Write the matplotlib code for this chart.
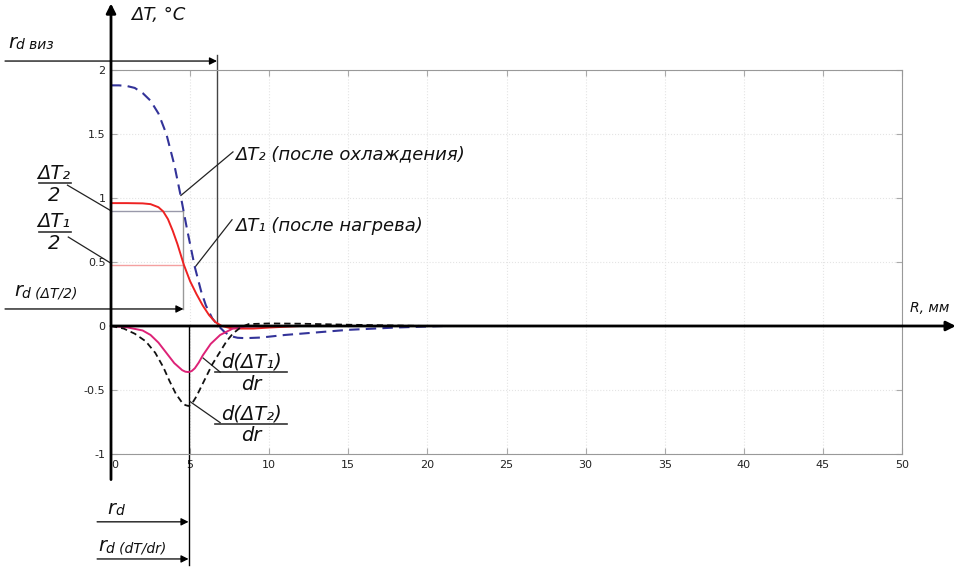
import matplotlib
matplotlib.use('Agg')
import matplotlib.pyplot as plt

## Data
# dT2 - after cooling (blue dashed)
r_t2 = [0, 0.5, 1, 1.5, 2, 2.5, 3, 3.5, 4, 4.4, 4.8, 5.3, 5.7, 6.0, 6.4, 6.8,
        7.2, 7.6, 8.0, 8.5, 9.5, 11, 13, 15, 18, 21]
t2 = [1.88, 1.88, 1.875, 1.86, 1.82, 1.76, 1.66, 1.5, 1.26, 1.02, 0.76, 0.46,
      0.27, 0.16, 0.06, 0.0, -0.05, -0.08, -0.092, -0.095, -0.09, -0.07, -0.05,
      -0.03, -0.012, 0.0]
# dT1 - after heating (red)
r_t1 = [0, 1, 2, 2.5, 3, 3.3, 3.6, 3.9, 4.2, 4.6, 5.0, 5.4, 5.8, 6.2, 6.6, 7.0,
        7.5, 8, 9, 10, 12]
t1 = [0.96, 0.96, 0.958, 0.952, 0.928, 0.895, 0.835, 0.745, 0.64, 0.48, 0.35,
      0.25, 0.16, 0.085, 0.03, 0.0, -0.015, -0.02, -0.02, -0.012, 0.0]
# d(dT1)/dr (magenta)
r_d1 = [0, 1, 2, 2.5, 3, 3.5, 4, 4.5, 4.7, 4.9, 5.1, 5.3, 5.55, 5.8, 6.3, 6.9,
        7.7, 8.5, 10]
d1 = [0, -0.01, -0.035, -0.07, -0.13, -0.21, -0.29, -0.345, -0.357, -0.36,
      -0.352, -0.33, -0.285, -0.23, -0.14, -0.07, -0.02, -0.005, 0]
# d(dT2)/dr (black dashed)
r_d2 = [0, 0.8, 1.5, 2.2, 2.8, 3.3, 3.7, 4.1, 4.5, 4.7, 4.9, 5.1, 5.4, 6.0,
        6.4, 6.9, 7.3, 7.7, 8.2, 8.7, 10, 12, 15, 20]
d2 = [0, -0.02, -0.06, -0.12, -0.21, -0.32, -0.43, -0.53, -0.6, -0.618,
      -0.625, -0.61, -0.55, -0.4, -0.3, -0.2, -0.12, -0.06, -0.01, 0.015, 0.02,
      0.018, 0.01, 0]

# characteristic radii and half levels
rd_viz = 6.7
rd_half = 4.58
rd_deriv = 4.9
half_t2 = 0.9
half_t1 = 0.48

x_ticks = [0, 5, 10, 15, 20, 25, 30, 35, 40, 45, 50]
y_ticks = [-1, -0.5, 0, 0.5, 1, 1.5, 2]
y_tick_labels = ['-1', '-0.5', '0', '0.5', '1', '1.5', '2']

## Initialize
plt.rcParams['font.family'] = ['DejaVu Sans']
fig = plt.figure(figsize=(9.57, 5.68), dpi=100)
ax = fig.add_axes([111/957, 1-454/568, (902-111)/957, (454-70)/568])
ax.set_xlim(0, 50)
ax.set_ylim(-1, 2)

ax.set_xticks(x_ticks)
ax.set_yticks(y_ticks)
ax.set_yticklabels(y_tick_labels)
ax.tick_params(direction='in', length=4, color='#aaaaaa', top=True, right=True,
               labelsize=8, labelcolor='#222222', pad=4)
ax.get_xticklabels()[0].set_horizontalalignment('left')
for side in ('top', 'right', 'bottom'):
    ax.spines[side].set_color('#999999')
ax.spines['left'].set_visible(False)
ax.grid(True, color='#e4e4e4', linestyle=':', linewidth=0.8)

## Curves
ax.plot(r_t2, t2, color='#333399', lw=1.5, dashes=(5, 3), zorder=4)
ax.plot(r_t1, t1, color='#ee2222', lw=1.4, zorder=4)
ax.plot(r_d1, d1, color='#dd2277', lw=1.4, zorder=4)
ax.plot(r_d2, d2, color='#111111', lw=1.3, dashes=(3.5, 2.2), zorder=4)

## Axes arrows
arrow_thick = dict(arrowstyle='-|>', lw=2, color='black', mutation_scale=14,
                   shrinkA=0, shrinkB=0)
ax.annotate('', xy=(0, 2.52), xytext=(0, -1.2), arrowprops=arrow_thick,
            annotation_clip=False, zorder=6)
ax.annotate('', xy=(53.4, 0), xytext=(0, 0), arrowprops=arrow_thick,
            annotation_clip=False, zorder=6)

arrow_thin = dict(arrowstyle='-|>', lw=0.9, color='black', mutation_scale=11,
                  shrinkA=0, shrinkB=0)
lab = dict(style='italic', color='#111111', clip_on=False)

ax.text(1.3, 2.43, 'ΔT, °C', fontsize=13, va='center', **lab)
ax.text(50.5, 0.14, 'R, мм', fontsize=10, va='center', **lab)


def rd_label(x, y, rest):
    t = ax.text(x, y, 'r', fontsize=14, va='bottom', **lab)
    ax.annotate(rest, xy=(1, 0), xycoords=t, fontsize=10, va='bottom',
                style='italic', color='#111111')


def fraction(xc, y_bar, x0, x1, num, den, size):
    # numerator sits on the bar, denominator hangs under it
    ax.text(xc, y_bar + 0.035, num, fontsize=size, ha='center', va='baseline', **lab)
    ax.plot([x0, x1], [y_bar, y_bar], color='#333333', lw=1.2, clip_on=False)
    ax.text(xc, y_bar - 0.02, den, fontsize=size, ha='center', va='top', **lab)


## r_d viz
ax.annotate('', xy=(rd_viz, 2.07), xytext=(-6.7, 2.07), arrowprops=arrow_thin,
            annotation_clip=False)
ax.plot([rd_viz, rd_viz], [2.12, 0], color='#444444', lw=1, clip_on=False)
rd_label(-6.5, 2.14, 'd виз')

## half levels
ax.plot([0, rd_half], [half_t2, half_t2], color='#9999aa', lw=1)
ax.plot([0, rd_half], [half_t1, half_t1], color='#f4a0a0', lw=1)
ax.plot([rd_half, rd_half], [half_t2, 0.133], color='#999999', lw=1)
ax.annotate('', xy=(rd_half, 0.133), xytext=(-6.7, 0.133), arrowprops=arrow_thin,
            annotation_clip=False)
rd_label(-6.1, 0.2, 'd (ΔT/2)')

fraction(-3.6, 1.117, -4.55, -2.5, 'ΔT₂', '2', 14)
ax.plot([-2.75, 0], [1.1, half_t2], color='#222222', lw=0.9, clip_on=False)
fraction(-3.6, 0.735, -4.55, -2.5, 'ΔT₁', '2', 14)
ax.plot([-2.7, 0], [0.695, 0.49], color='#222222', lw=0.9, clip_on=False)

## r_d from derivative
ax.plot([rd_deriv, rd_deriv], [0, -1.87], color='black', lw=1, clip_on=False)
ax.annotate('', xy=(rd_deriv, -1.53), xytext=(-0.88, -1.53), arrowprops=arrow_thin,
            annotation_clip=False)
rd_label(-0.25, -1.50, 'd')
ax.annotate('', xy=(rd_deriv, -1.82), xytext=(-0.88, -1.82), arrowprops=arrow_thin,
            annotation_clip=False)
rd_label(-0.8, -1.79, 'd (dT/dr)')

## curve labels
ax.text(7.85, 1.34, 'ΔT₂ (после охлаждения)', fontsize=13, va='center', **lab)
ax.plot([4.42, 7.71], [1.02, 1.36], color='#222222', lw=0.9)
ax.text(7.85, 0.78, 'ΔT₁ (после нагрева)', fontsize=13, va='center', **lab)
ax.plot([5.31, 7.65], [0.46, 0.83], color='#222222', lw=0.9)

fraction(8.85, -0.36, 6.6, 11.1, 'd(ΔT₁)', 'dr', 14)
ax.plot([5.82, 6.9], [-0.25, -0.36], color='#222222', lw=0.9)
fraction(8.85, -0.765, 6.6, 11.1, 'd(ΔT₂)', 'dr', 14)
ax.plot([4.99, 6.9], [-0.59, -0.755], color='#222222', lw=0.9)

plt.savefig('out.png', dpi=100)
